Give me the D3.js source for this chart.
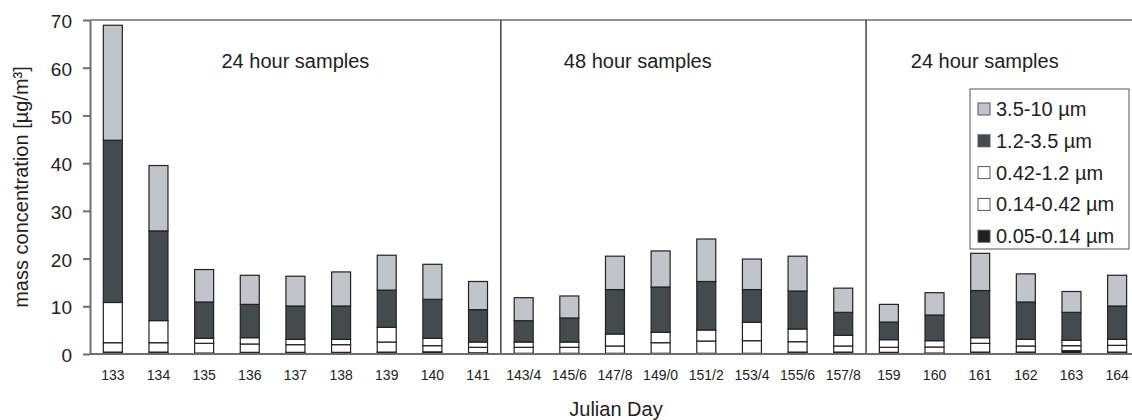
<!DOCTYPE html>
<html>
<head>
<meta charset="utf-8">
<script src="https://cdn.jsdelivr.net/npm/d3@7"></script>
<style>
body { margin: 0; background: #fff; }
text { font-family: "Liberation Sans", Arial, sans-serif; fill: #222; }
</style>
</head>
<body>
<script>
var days = ["133", "134", "135", "136", "137", "138", "139", "140", "141",
    "143/4", "145/6", "147/8", "149/0", "151/2", "153/4", "155/6", "157/8",
    "159", "160", "161", "162", "163", "164"];

// size fractions, bottom to top
var fine005 = [0.4, 0.4, 0.2, 0.35, 0.35, 0.35, 0.4, 0.45, 0.25,
    0.15, 0.15, 0.15, 0.15, 0.15, 0.15, 0.4, 0.4,
    0.35, 0.2, 0.4, 0.4, 0.7, 0.4];
var fine014 = [1.97, 1.97, 2.04, 1.75, 1.61, 1.61, 2.11, 1.3, 1.15,
    1.25, 1.25, 1.53, 2.22, 2.57, 2.64, 2.18, 1.28,
    1.05, 1.27, 1.84, 1.28, 1.05, 1.42];
var fine042 = [8.43, 4.63, 1.04, 1.32, 1.11, 1.11, 3.08, 1.53, 1.11,
    1.11, 1.11, 2.51, 2.17, 2.31, 3.85, 2.66, 2.23,
    1.6, 1.32, 1.18, 1.39, 1.11, 1.25];
var coarse12 = [34.0, 18.8, 7.62, 6.98, 6.99, 6.99, 7.81, 8.18, 6.79,
    4.47, 5.04, 9.31, 9.5, 10.17, 6.86, 7.96, 4.82,
    3.7, 5.38, 9.88, 7.83, 5.87, 6.99];
var coarse35 = [24.1, 13.7, 6.8, 6.1, 6.24, 7.14, 7.3, 7.34, 5.9,
    4.82, 4.61, 7.0, 7.56, 8.9, 6.4, 7.3, 5.07,
    3.7, 4.68, 7.8, 5.9, 4.37, 6.44];

var seriesKeys = ["s005", "s014", "s042", "s12", "s35"];
var seriesNames = ["0.05-0.14 µm", "0.14-0.42 µm", "0.42-1.2 µm", "1.2-3.5 µm", "3.5-10 µm"];
var seriesColors = ["#231f20", "#ffffff", "#ffffff", "#434b4d", "#c1c4ca"];

var yTicks = [0, 10, 20, 30, 40, 50, 60, 70];
// period labels and where they sit (category, offset in steps)
var periods = [
    { label: "24 hour samples", at: "137", shift: 0 },
    { label: "48 hour samples", at: "147/8", shift: 0.5 },
    { label: "24 hour samples", at: "161", shift: 0.1 }
];
var dividers = [["141", "143/4"], ["157/8", "159"]];

var rows = days.map(function (d, i) {
    return { day: d, s005: fine005[i], s014: fine014[i], s042: fine042[i], s12: coarse12[i], s35: coarse35[i] };
});

var w = 1132, h = 420;
var padLeft = 90, padTop = 20, baseY = 354;

var svg = d3.select("body").append("svg")
    .attr("width", w)
    .attr("height", h);

var p = 0.584;
var x = d3.scaleBand()
    .domain(days)
    .range([padLeft, padLeft + 23 * 45.65])
    .paddingInner(p)
    .paddingOuter(p / 2);

var y = d3.scaleLinear()
    .domain([0, 70])
    .range([baseY, padTop]);

var stack = d3.stack().keys(seriesKeys)(rows);

// top frame line
svg.append("line")
    .attr("x1", padLeft).attr("x2", w)
    .attr("y1", y(70)).attr("y2", y(70))
    .attr("stroke", "#6e6e6e").attr("stroke-width", 1.5);

// period dividers
svg.selectAll(".divider")
    .data(dividers)
    .enter()
    .append("line")
    .attr("x1", function (d) { return (x(d[0]) + x(d[1]) + x.bandwidth()) / 2; })
    .attr("x2", function (d) { return (x(d[0]) + x(d[1]) + x.bandwidth()) / 2; })
    .attr("y1", y(70)).attr("y2", y(0))
    .attr("stroke", "#444").attr("stroke-width", 1.5);

var layer = svg.selectAll(".layer")
    .data(stack)
    .enter()
    .append("g")
    .attr("fill", function (d, i) { return seriesColors[i]; });

layer.selectAll("rect")
    .data(function (d) { return d; })
    .enter()
    .append("rect")
    .attr("x", function (d) { return x(d.data.day); })
    .attr("y", function (d) { return y(d[1]); })
    .attr("width", x.bandwidth())
    .attr("height", function (d) { return y(d[0]) - y(d[1]); })
    .attr("stroke", "#222")
    .attr("stroke-width", 1.2);

// x axis line and labels
var xAxis = d3.axisBottom(x).tickSize(0).tickPadding(16);
var gx = svg.append("g")
    .attr("transform", "translate(0," + baseY + ")")
    .call(xAxis);
gx.select(".domain").remove();
gx.selectAll("text")
    .style("font-size", "14px")
    .style("font-family", "Liberation Sans, Arial, sans-serif")
    .attr("fill", "#222");
svg.append("line")
    .attr("x1", padLeft).attr("x2", w)
    .attr("y1", baseY).attr("y2", baseY)
    .attr("stroke", "#6e6e6e").attr("stroke-width", 2);

// y axis
var yAxis = d3.axisLeft(y).tickValues(yTicks).tickSize(7).tickPadding(11).tickSizeOuter(0);
var gy = svg.append("g")
    .attr("transform", "translate(" + padLeft + ",0)")
    .call(yAxis);
gy.select(".domain").attr("stroke", "#6e6e6e").attr("stroke-width", 2);
gy.selectAll(".tick line").attr("stroke", "#6e6e6e").attr("stroke-width", 2);
gy.selectAll("text")
    .style("font-size", "19px")
    .style("font-family", "Liberation Sans, Arial, sans-serif")
    .attr("fill", "#222")
    .attr("dy", "0.4em");

// axis titles
svg.append("text")
    .attr("transform", "translate(28," + ((padTop + baseY) / 2) + ") rotate(-90)")
    .attr("text-anchor", "middle")
    .style("font-size", "20px")
    .text("mass concentration [µg/m³]");

svg.append("text")
    .attr("x", 616)
    .attr("y", 416)
    .attr("text-anchor", "middle")
    .style("font-size", "20px")
    .text("Julian Day");

// period labels
svg.selectAll(".period")
    .data(periods)
    .enter()
    .append("text")
    .attr("x", function (d) { return x(d.at) + x.bandwidth() / 2 + d.shift * x.step(); })
    .attr("y", 68)
    .attr("text-anchor", "middle")
    .style("font-size", "20px")
    .text(function (d) { return d.label; });

// legend
var lg = svg.append("g").attr("transform", "translate(970,89)");
lg.append("rect")
    .attr("width", 159).attr("height", 160)
    .attr("fill", "#fff")
    .attr("stroke", "#555").attr("stroke-width", 1);

var items = seriesNames.map(function (n, i) { return { name: n, color: seriesColors[i] }; }).reverse();
var li = lg.selectAll(".item")
    .data(items)
    .enter()
    .append("g")
    .attr("transform", function (d, i) { return "translate(8," + (20 + i * 31.8) + ")"; });
li.append("rect")
    .attr("x", 0).attr("y", -6)
    .attr("width", 12).attr("height", 12)
    .attr("fill", function (d) { return d.color; })
    .attr("stroke", "#555").attr("stroke-width", 1);
li.append("text")
    .attr("x", 18)
    .attr("y", 7)
    .style("font-size", "20px")
    .text(function (d) { return d.name; });
</script>
</body>
</html>
